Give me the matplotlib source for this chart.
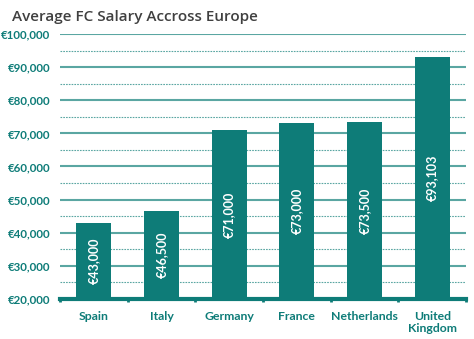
import matplotlib
matplotlib.use("Agg")
import matplotlib.pyplot as plt
from matplotlib.ticker import MultipleLocator, FuncFormatter

countries = ["Spain", "Italy", "Germany", "France", "Netherlands", "United\nKingdom"]
salaries = [43000, 46500, 71000, 73000, 73500, 93103]
bar_labels = ["€43,000", "€46,500", "€71,000", "€73,000", "€73,500", "€93,103"]

teal = "#0E7C78"
grid_c = "#5AA6A2"

plt.rcParams['font.family'] = ['Lato', 'DejaVu Sans']

fig = plt.figure(figsize=(4.74, 3.39), dpi=100)
ax = fig.add_axes([60/474, 1-299/339, 406/474, 265/339])

x = list(range(len(countries)))
bars = ax.bar(x, salaries, width=0.52, color=teal, zorder=3)

ax.set_ylim(20000, 100000)
ax.set_xlim(-0.5, len(countries) - 0.5)

ax.yaxis.set_major_locator(MultipleLocator(10000))
ax.yaxis.set_minor_locator(MultipleLocator(5000))
ax.yaxis.set_major_formatter(FuncFormatter(lambda v, p: f"€{int(v):,}"))
ax.grid(axis="y", which="major", color=grid_c, linewidth=1.5, zorder=0)
ax.grid(axis="y", which="minor", color=grid_c, linewidth=0.8, linestyle=(0, (1.5, 1)), zorder=0)
ax.tick_params(axis="y", which="both", length=0, labelsize=8.3, labelcolor=teal, pad=7)
for t in ax.get_yticklabels():
    t.set_fontweight("bold")

ax.set_xticks(x)
ax.set_xticklabels(countries, fontsize=8.8, fontweight="bold", color=teal, linespacing=1.1)
ax.set_xticks([i - 0.5 for i in range(len(countries) + 1)], minor=True)
ax.tick_params(axis="x", which="major", length=0, pad=9)
ax.tick_params(axis="x", which="minor", length=2, width=2, color=teal)

for s in ["left", "right", "top"]:
    ax.spines[s].set_visible(False)
ax.spines["bottom"].set_color(teal)
ax.spines["bottom"].set_linewidth(3)
ax.spines["bottom"].set_zorder(4)

for rect, lab in zip(bars, bar_labels):
    cx = rect.get_x() + rect.get_width() / 2
    cy = (20000 + rect.get_height()) / 2
    ax.text(cx, cy, lab, rotation=90, ha="center", va="center",
            color="white", fontsize=9, fontweight="bold", zorder=5)

fig.text(12/474, 1-17/339, "Average FC Salary Accross Europe", fontsize=11,
         color="#404040", ha="left", va="center", fontweight=600,
         family=["Open Sans", "DejaVu Sans"])

fig.savefig("out.png", dpi=100)
